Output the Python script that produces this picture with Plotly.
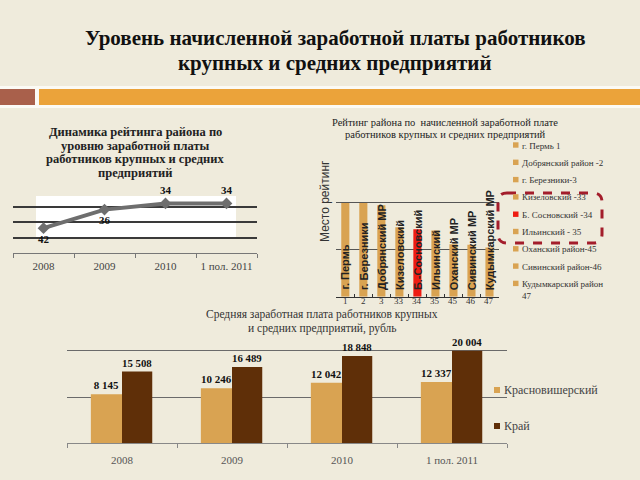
import plotly.graph_objects as go

# ---------------- data ----------------
periods = ["2008", "2009", "2010", "1 пол. 2011"]
rating_dynamic = [42, 36, 34, 34]

ranks = ["1", "2", "3", "33", "34", "35", "45", "46", "47"]
district_names = ["г. Пермь", "г. Березники", "Добрянский МР", "Кизеловский",
                  "Б.-Сосновский", "Ильинский", "Оханский МР", "Сивинский МР",
                  "Кудымкарский МР"]
rating_values = [20000, 20000, 19500, 14800, 14400, 14100, 11200, 11100, 10500]
highlight_index = 4
legend_labels = ["г. Пермь 1", "Добрянский район -2", "г. Березники-3",
                 "Кизеловский -33", "Б. Сосновский -34", "Ильинский - 35",
                 "Оханский район-45", "Сивинский район-46",
                 "Кудымкарский район<br>47"]

wage_kras = [8145, 10246, 12042, 12337]
wage_krai = [15508, 16489, 18848, 20004]
series_names = ["Красновишерский", "Край"]

# ---------------- style ----------------
BG = "#EFEBDC"
TAN = "#D9A352"
RED = "#EE1C12"
BROWN = "#5F2F08"
SERIF = "Liberation Serif"
SANS = "Liberation Sans"
W, H = 640, 480
K_MIN, K_MAX = -8555, 38790  # range of the (hidden) secondary axis


def px(x):
    return x / W


def py(y):
    return 1 - y / H


def fmt(v):
    return f"{v:,}".replace(",", " ")


def note(text, x, y, size, family=SERIF, color="#222", bold=False,
         xanchor="center", yanchor="middle", **kw):
    return dict(text=text, x=px(x), y=py(y), xref="paper", yref="paper",
                xanchor=xanchor, yanchor=yanchor, showarrow=False,
                font=dict(family=family, size=size, color=color,
                          weight="bold" if bold else "normal"), **kw)


fig = go.Figure()

# line chart: rating dynamics
fig.add_trace(go.Scatter(
    x=periods, y=rating_dynamic, xaxis="x", yaxis="y",
    mode="lines+markers+text",
    text=[str(v) for v in rating_dynamic],
    textposition=["bottom center", "bottom center", "top center", "top center"],
    textfont=dict(family=SERIF, size=11, color="#111", weight="bold"),
    line=dict(color="#6E6E6E", width=4),
    marker=dict(symbol="diamond", size=9, color="#6E6E6E"),
    showlegend=False, cliponaxis=False))

# rating bar chart
bar_colors = [RED if i == highlight_index else TAN for i in range(len(ranks))]
fig.add_trace(go.Bar(
    x=ranks, y=rating_values, xaxis="x2", yaxis="y2",
    marker=dict(color=bar_colors, line=dict(width=0)),
    width=0.45, showlegend=False))

# average wage bar chart
fig.add_trace(go.Bar(
    x=periods, y=[v - K_MIN for v in wage_kras], base=K_MIN,
    customdata=wage_kras, hovertemplate="%{x}: %{customdata}<extra></extra>",
    xaxis="x3", yaxis="y4", name=series_names[0],
    marker=dict(color=TAN, line=dict(width=0)),
    offset=-0.283, width=0.283,
    text=[fmt(v) for v in wage_kras], textposition="outside",
    textfont=dict(family=SERIF, size=11, color="#111", weight="bold"),
    cliponaxis=False, showlegend=False))
fig.add_trace(go.Bar(
    x=periods, y=wage_krai, xaxis="x3", yaxis="y3", name=series_names[1],
    marker=dict(color=BROWN, line=dict(width=0)),
    offset=0, width=0.275,
    text=[fmt(v) for v in wage_krai], textposition="outside",
    textfont=dict(family=SERIF, size=11, color="#111", weight="bold"),
    cliponaxis=False, showlegend=False))

shapes = []
annotations = []

# header band
shapes.append(dict(type="rect", xref="paper", yref="paper", x0=0, x1=1,
                   y0=py(108), y1=py(86), fillcolor="#FBFAF5", line_width=0, layer="below"))
shapes.append(dict(type="rect", xref="paper", yref="paper", x0=0, x1=px(35),
                   y0=py(105), y1=py(89), fillcolor="#A9604B", line_width=0, layer="below"))
shapes.append(dict(type="rect", xref="paper", yref="paper", x0=px(39), x1=1,
                   y0=py(105), y1=py(89), fillcolor="#EBA33A", line_width=0, layer="below"))

# white panel behind line chart
shapes.append(dict(type="rect", xref="paper", yref="paper", x0=px(36), x1=px(236),
                   y0=py(237), y1=py(196), fillcolor="#FFFFFF", line_width=0, layer="below"))

# dashed rounded box around legend items
x0, y0, x1, y1, r = 498, 193, 602, 243, 9
path = (f"M {px(x0 + r)},{py(y0)} L {px(x1 - r)},{py(y0)} "
        f"Q {px(x1)},{py(y0)} {px(x1)},{py(y0 + r)} L {px(x1)},{py(y1 - r)} "
        f"Q {px(x1)},{py(y1)} {px(x1 - r)},{py(y1)} L {px(x0 + r)},{py(y1)} "
        f"Q {px(x0)},{py(y1)} {px(x0)},{py(y1 - r)} L {px(x0)},{py(y0 + r)} "
        f"Q {px(x0)},{py(y0)} {px(x0 + r)},{py(y0)} Z")
shapes.append(dict(type="path", xref="paper", yref="paper", path=path,
                   line=dict(color="#A31D2B", width=3, dash="dash")))

# main title
annotations.append(note("Уровень начисленной заработной платы работников", 335, 38, 21,
                        color="#111", bold=True))
annotations.append(note("крупных и средних предприятий", 335, 63, 21, color="#111", bold=True))

# line chart title
for i, t in enumerate(["Динамика рейтинга района по", "уровню заработной платы",
                       "работников крупных и средних", "предприятий"]):
    annotations.append(note(t, 135, 132 + 13.7 * i, 12.5, bold=True))

# rating chart title
for i, t in enumerate(["Рейтинг района по  начисленной заработной плате",
                       "работников крупных и средних предприятий"]):
    annotations.append(note(t, 445, 123 + 11.5 * i, 10.5))
annotations.append(note("Место рейтинг", 325, 201, 12, family=SANS, color="#333",
                        textangle=-90))

# names inside rating bars and rank labels under the axis
for i, (name, rk) in enumerate(zip(district_names, ranks)):
    annotations.append(dict(text=name, x=i, y=0, xref="x2", yref="y2", yshift=5,
                            textangle=-90, xanchor="center", yanchor="bottom", showarrow=False,
                            font=dict(family=SANS, size=11, color="#222", weight="bold")))
    annotations.append(dict(text=rk, x=i, y=0, xref="x2", yref="y2", yshift=-4.5,
                            xanchor="center", yanchor="middle", showarrow=False,
                            font=dict(family=SERIF, size=9, color="#333")))

# rating legend
for i, (lab, col) in enumerate(zip(legend_labels, bar_colors)):
    yc = 145 + 17.3 * i
    shapes.append(dict(type="rect", xref="paper", yref="paper", x0=px(513), x1=px(518.5),
                       y0=py(yc + 2.7), y1=py(yc - 2.7), fillcolor=col, line_width=0))
    annotations.append(note(lab, 520, yc - 6.5, 9, color="#333", xanchor="left",
                            yanchor="top", align="left"))

# bottom chart title
for i, t in enumerate(["Средняя заработная плата работников крупных",
                       "и средних предприятий, рубль"]):
    annotations.append(note(t, 322, 314 + 14 * i, 11.5, color="#333"))

# bottom legend
for i, (nm, col) in enumerate(zip(series_names, [TAN, BROWN])):
    yc = 390 + 36 * i
    shapes.append(dict(type="rect", xref="paper", yref="paper", x0=px(494), x1=px(500),
                       y0=py(yc + 3), y1=py(yc - 3), fillcolor=col, line_width=0))
    annotations.append(note(nm, 502, yc, 12, color="#444", xanchor="left"))

fig.update_layout(
    width=W, height=H, margin=dict(l=0, r=0, t=0, b=0, autoexpand=False),
    paper_bgcolor=BG, plot_bgcolor="rgba(0,0,0,0)",
    barmode="overlay",
    shapes=shapes, annotations=annotations,
    xaxis=dict(domain=[px(13), px(257)], anchor="y", type="category",
               range=[-0.5, len(periods) - 0.5], automargin=False, tickangle=0,
               tickson="boundaries", ticks="outside", ticklen=4, tickcolor="#777",
               showline=True, linecolor="#777", showgrid=False, ticklabelstandoff=3,
               tickfont=dict(family=SERIF, size=11, color="#444")),
    yaxis=dict(domain=[py(253), py(191)], anchor="x", range=[50, 30], automargin=False,
               tick0=30, dtick=5, showgrid=True, gridcolor="#3A3A3A", gridwidth=1.5,
               showticklabels=False, zeroline=False),
    xaxis2=dict(domain=[px(336.3), px(498.5)], anchor="y2", type="category",
                range=[-0.5, len(ranks) - 0.5], automargin=False,
                tickson="boundaries", ticks="inside", ticklen=3, tickcolor="#333",
                showline=True, linecolor="#333", showgrid=False,
                showticklabels=False),
    yaxis2=dict(domain=[py(296.7), py(156)], anchor="x2", range=[0, 30000],
                automargin=False,
                dtick=10000, showgrid=True, gridcolor="#555", gridwidth=1,
                showticklabels=False, zeroline=False),
    xaxis3=dict(domain=[px(67), px(507)], anchor="y3", type="category",
                range=[-0.5, len(periods) - 0.5], automargin=False, tickangle=0,
                tickson="boundaries", ticks="outside", ticklen=4, tickcolor="#888",
                showline=True, linecolor="#888", showgrid=False, ticklabelstandoff=6,
                tickfont=dict(family=SERIF, size=11, color="#555")),
    yaxis3=dict(domain=[py(443.3), py(304.4)], anchor="x3", range=[0, 30000],
                automargin=False,
                dtick=10000, showgrid=True, gridcolor="#6A6A6A", gridwidth=1.2,
                showticklabels=False, zeroline=False),
    yaxis4=dict(overlaying="y3", anchor="x3", range=[K_MIN, K_MAX], automargin=False,
                visible=False, showgrid=False),
)

post = ("document.documentElement.style.margin='0';"
        "document.documentElement.style.overflow='hidden';"
        "document.body.style.margin='0';"
        "document.body.style.overflow='hidden';"
        "var d=document.getElementById('{plot_id}');"
        "d.style.position='fixed';d.style.left='0px';d.style.top='0px';")
fig.write_html("out.html", config={"displayModeBar": False}, post_script=post)
